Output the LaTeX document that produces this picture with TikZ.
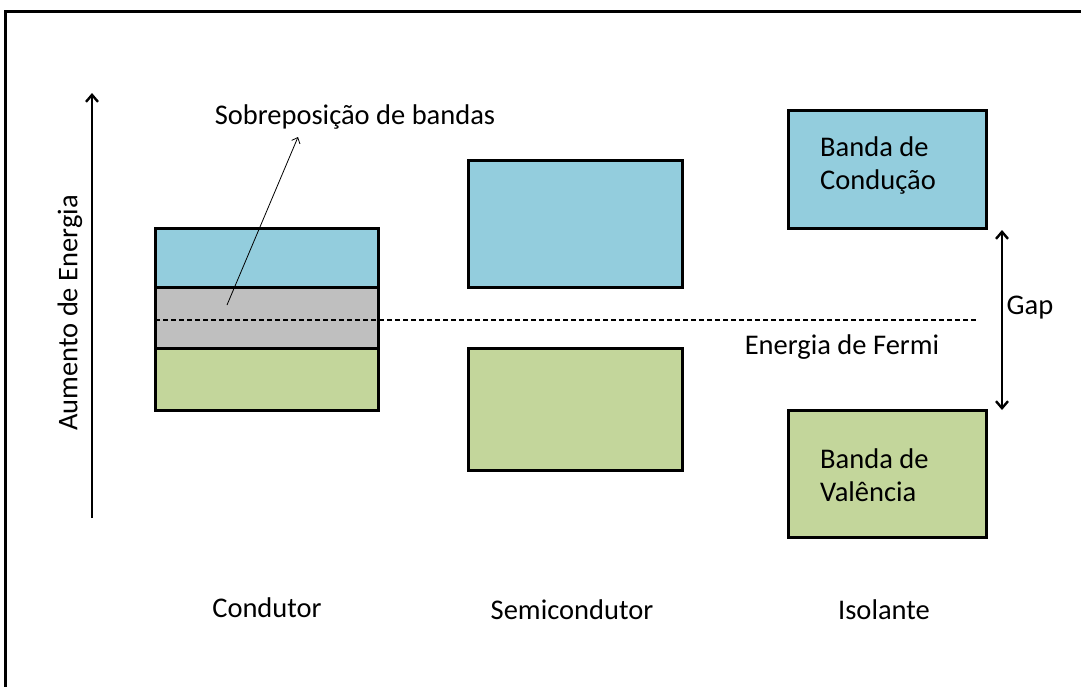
\documentclass[tikz,border=0pt]{standalone}
\usepackage{fontspec}
\setmainfont{Carlito}
\usetikzlibrary{positioning,arrows.meta}
\definecolor{azulbanda}{RGB}{147,205,221}
\definecolor{verdebanda}{RGB}{195,214,155}
\definecolor{cinzabanda}{RGB}{191,191,191}
\tikzset{
	faixa/.style={draw=black, line width=3pt, inner sep=0pt, outer sep=0pt, anchor=north west},
	rotulo/.style={font=\fontsize{28.5}{33}\selectfont, inner sep=0pt},
}
\begin{document}
\begin{tikzpicture}[x=1pt, y=-1pt]
\useasboundingbox (0,0) rectangle (1081,686);
% Rahmen
\draw[line width=3pt] (5,690) -- (5,11) -- (1085,11);

% Achse
\coordinate (eixoA) at (92,518);
\coordinate (eixoB) at (92,93);
\draw[-{Straight Barb[length=7pt,width=12pt]}, line width=2.4pt] (eixoA) -- (eixoB);
\node[rotulo, rotate=90] (energia) at (70,313) {Aumento de Energia};

% Condutor
\begin{scope}[local bounding box=Cond]
	\node[faixa, fill=azulbanda, minimum width=223pt, minimum height=59pt] (condBC) at (155,228) {};
	\node[faixa, fill=cinzabanda, minimum width=223pt, minimum height=61pt, below=0pt of condBC] (condSob) {};
	\node[faixa, fill=verdebanda, minimum width=223pt, minimum height=62pt, below=0pt of condSob] (condBV) {};
\end{scope}

% Fermi
\coordinate (fermiA) at (155,320);
\coordinate (fermiB) at (978,320);
\draw[dashed, dash pattern=on 5pt off 3pt, line width=1.5pt] (fermiA) -- (fermiB);
\node[rotulo] (fermi) at (842,347) {Energia de Fermi};

% Sobreposicao
\node[rotulo] (sobre) at (355,117) {Sobreposição de bandas};
\coordinate (sobreA) at (227,305);
\coordinate (sobreB) at (298,137);
\draw[-{Straight Barb[length=5pt,width=9pt]}, line width=0.8pt] (sobreA) -- (sobreB);

% Semicondutor
\begin{scope}[local bounding box=Semi]
	\node[faixa, fill=azulbanda, minimum width=214pt, minimum height=127pt] (semiBC) at (468,160) {};
	\node[faixa, fill=verdebanda, minimum width=214pt, minimum height=122pt] (semiBV) at (468,348) {};
\end{scope}

% Isolante
\begin{scope}[local bounding box=Iso]
	\node[faixa, fill=azulbanda, minimum width=198pt, minimum height=118pt] (isoBC) at (788,110) {};
	\node[faixa, fill=verdebanda, minimum width=198pt, minimum height=127pt] (isoBV) at (788,410) {};
	\node[rotulo, align=left, anchor=west] (txtBC) at ([xshift=32pt, yshift=4pt]isoBC.west) {Banda de\\Condução};
	\node[rotulo, align=left, anchor=west] (txtBV) at ([xshift=32pt, yshift=-2pt]isoBV.west) {Banda de\\Valência};
	\coordinate (gapA) at (1002,230);
	\coordinate (gapB) at (1002,410);
	\draw[{Straight Barb[length=7pt,width=12pt]}-{Straight Barb[length=7pt,width=12pt]}, line width=2.4pt] (gapA) -- (gapB);
	\node[rotulo] (gap) at (1030,308) {Gap};
\end{scope}

% Beschriftung
\node[rotulo] (lblCond) at (267,608) {Condutor};
\node[rotulo] (lblSemi) at (572,610) {Semicondutor};
\node[rotulo] (lblIso) at (884,610) {Isolante};
\end{tikzpicture}
\end{document}
